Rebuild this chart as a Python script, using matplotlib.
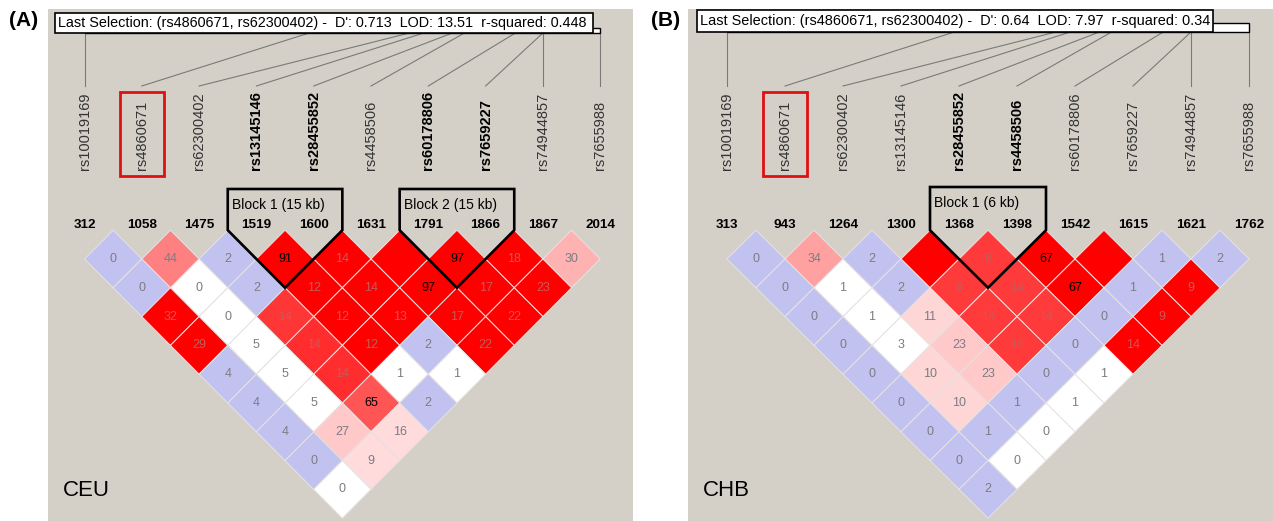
import matplotlib
matplotlib.use('Agg')
import matplotlib.pyplot as plt
from matplotlib.patches import Polygon, Rectangle
from matplotlib import font_manager

plt.rcParams['font.family'] = ['Liberation Sans', 'DejaVu Sans']

# narrow face for the selection box text, if installed
try:
    font_manager.findfont(font_manager.FontProperties(family='Liberation Sans Narrow'),
                          fallback_to_default=False)
    BOX_FAMILY = ['Liberation Sans Narrow', 'Liberation Sans', 'DejaVu Sans']
except Exception:
    BOX_FAMILY = ['Liberation Sans', 'DejaVu Sans']

# ---------------- data ----------------
snps = ['rs10019169', 'rs4860671', 'rs62300402', 'rs13145146', 'rs28455852',
        'rs4458506', 'rs60178806', 'rs7659227', 'rs74944857', 'rs7655988']
# relative physical map position of each SNP (in marker-spacing units)
map_pos = [0, 3.92, 5.67, 5.92, 6.42, 6.63, 7.52, 8.0, 8.0, 9.0]
selected_snp = 1

ceu_numbers = ['312', '1058', '1475', '1519', '1600', '1631', '1791', '1866', '1867', '2014']
ceu_bold = [3, 4, 6, 7]
ceu_r2 = [  # r^2 x100, rows by marker distance; None = 100 (shown blank)
    [0, 44, 2, 91, 14, None, 97, 18, 30],
    [0, 0, 2, 12, 14, 97, 17, 23],
    [32, 0, 14, 12, 13, 17, 22],
    [29, 5, 14, 12, 2, 22],
    [4, 5, 14, 1, 1],
    [4, 5, 65, 2],
    [4, 27, 16],
    [0, 9],
    [0],
]
ceu_dprime = [
    [1, 0.713, 1, 1, 1, 1, 1, 1, 0.60],
    [1, 0.5, 1, 1, 1, 1, 1, 1],
    [1, 0.5, 0.88, 1, 1, 1, 1],
    [1, 0.5, 0.90, 1, 1, 1],
    [1, 0.5, 0.90, 0.5, 0.5],
    [1, 0.5, 0.81, 1],
    [1, 0.55, 0.51],
    [1, 0.51],
    [0.5],
]
ceu_lod_sig = [
    [0, 1, 0, 1, 1, 1, 1, 1, 1],
    [0, 0, 0, 1, 1, 1, 1, 1],
    [1, 0, 1, 1, 1, 1, 1],
    [1, 0, 1, 1, 0, 1],
    [0, 0, 1, 0, 0],
    [0, 0, 1, 0],
    [0, 1, 1],
    [0, 1],
    [0],
]
ceu_blocks = [(3, 4, 'Block 1 (15 kb)'), (6, 7, 'Block 2 (15 kb)')]
ceu_selection = "Last Selection: (rs4860671, rs62300402) -  D': 0.713  LOD: 13.51  r-squared: 0.448"

chb_numbers = ['313', '943', '1264', '1300', '1368', '1398', '1542', '1615', '1621', '1762']
chb_bold = [4, 5]
chb_r2 = [
    [0, 34, 2, None, 8, 67, None, 1, 2],
    [0, 1, 2, 8, 14, 67, 1, 9],
    [0, 1, 11, 14, 14, 0, 9],
    [0, 3, 23, 14, 0, 14],
    [0, 10, 23, 0, 1],
    [0, 10, 1, 1],
    [0, 1, 0],
    [0, 0],
    [2],
]
chb_dprime = [
    [1, 0.64, 1, 1, 0.87, 1, 1, 1, 1],
    [1, 0.5, 1, 0.87, 0.87, 1, 1, 1],
    [1, 0.5, 0.52, 0.87, 0.87, 1, 1],
    [1, 0.5, 0.55, 0.87, 1, 1],
    [1, 0.52, 0.55, 1, 0.5],
    [1, 0.52, 1, 0.5],
    [1, 1, 0.5],
    [1, 0.5],
    [1],
]
chb_lod_sig = [
    [0, 1, 0, 1, 1, 1, 1, 0, 0],
    [0, 0, 0, 1, 1, 1, 0, 1],
    [0, 0, 1, 1, 1, 0, 1],
    [0, 0, 1, 1, 0, 1],
    [0, 1, 1, 0, 0],
    [0, 1, 0, 0],
    [0, 0, 0],
    [0, 0],
    [0],
]
chb_blocks = [(4, 5, 'Block 1 (6 kb)')]
chb_selection = "Last Selection: (rs4860671, rs62300402) -  D': 0.64  LOD: 7.97  r-squared: 0.34"

# ---------------- layout ----------------
W, H, DPI = 1273, 521, 100
BG = '#D4D0C8'
BLUE = (194 / 255, 194 / 255, 240 / 255)
fig = plt.figure(figsize=(W / DPI, H / DPI), dpi=DPI, facecolor='white')


def ld_color(dp, sig):
    if not sig:
        return BLUE if dp >= 1 else (1, 1, 1)
    blgr = min(224, max(0, 446 * (1 - dp))) / 255.0
    return (1.0, blgr, blgr)


def draw_panel(cfg):
    left, right, x0, xstep = cfg['left'], cfg['right'], cfg['x0'], cfg['xstep']
    top, y0, ystep = 9, 230.2, 57.6
    ax = fig.add_axes([left / W, 0, (right - left) / W, (H - top) / H])
    ax.set_facecolor(BG)
    for s in ax.spines.values():
        s.set_visible(False)
    ax.set_xticks([]); ax.set_yticks([])
    ax.set_xlim((left - x0) / xstep, (right - x0) / xstep)
    ax.set_ylim((H - y0) / ystep, (top - y0) / ystep)

    def px(p):
        return (p - x0) / xstep

    def py(p):
        return (p - y0) / ystep

    n = len(snps)
    # genomic strip and header box
    bx0, bx1, by0, by1 = cfg['box']
    ax.add_patch(Rectangle((0, py(cfg['strip_top'])), n - 1,
                           py(by1) - py(cfg['strip_top']),
                           facecolor='white', edgecolor='black', lw=1.0, zorder=3))
    ax.add_patch(Rectangle((px(bx0), py(by0)), px(bx1) - px(bx0), py(by1) - py(by0),
                           facecolor='white', edgecolor='black', lw=1.2, zorder=4))
    sel = ax.text(px(bx0) + 2.5 / xstep, py((by0 + by1) / 2 + 0.5), cfg['selection'],
                  ha='left', va='center', fontsize=10.5, family=BOX_FAMILY,
                  color='black', zorder=5)

    # connector lines and SNP labels
    for i, name in enumerate(snps):
        ax.plot([i, map_pos[i]], [py(86), py(by1)], color='#7A7A7A', lw=0.8, zorder=2)
        bold = i in cfg['bold']
        ax.text(i, py(170), name, rotation=90, ha='center', va='bottom',
                fontsize=10.5, fontweight='bold' if bold else 'normal',
                color='black' if bold else '#333333', zorder=3)
        ax.text(i, py(225), cfg['numbers'][i], ha='center', va='center',
                fontsize=9.7, fontweight='bold', color='black', zorder=3)
    ax.add_patch(Rectangle((selected_snp - 22 / xstep, py(92)), 44 / xstep, py(176) - py(92),
                           facecolor='none', edgecolor='#E01010', lw=2.0, zorder=4))

    # LD diamonds
    for d, (r2row, dprow, sgrow) in enumerate(zip(cfg['r2'], cfg['dprime'], cfg['sig']), start=1):
        for i, (v, dp, sg) in enumerate(zip(r2row, dprow, sgrow)):
            cx, cy = i + d / 2.0, d / 2.0
            col = ld_color(dp, sg)
            ax.add_patch(Polygon([(cx, cy - 0.5), (cx + 0.5, cy), (cx, cy + 0.5), (cx - 0.5, cy)],
                                 closed=True, facecolor=col, edgecolor='#E6E2E2', lw=0.7, zorder=2))
            if v is None:
                continue
            if v >= 50:
                tc = 'black'
            elif col[1] < 0.5:
                tc = '#C85A5A'
            else:
                tc = '#7C7C84'
            ax.text(cx, cy, str(v), ha='center', va='center', fontsize=9, color=tc, zorder=3)

    # haplotype blocks
    for a, b, label in cfg['blocks']:
        ytop = py(cfg['block_top'])
        mid = (a + b) / 2.0
        pts = [(a - 0.5, ytop), (a - 0.5, 0), (mid, (b - a + 1) * 0.5),
               (b + 0.5, 0), (b + 0.5, ytop)]
        ax.add_patch(Polygon(pts, closed=True, facecolor='none', edgecolor='black',
                             lw=1.9, joinstyle='miter', zorder=5))
        ax.text(a - 0.5 + 4 / xstep, py(cfg['block_top'] + 16), label, ha='left', va='center',
                fontsize=10, color='black', zorder=5)

    ax.text(px(cfg['left'] + 15), py(491), cfg['pop'], ha='left', va='center',
            fontsize=16, color='black', zorder=5)
    fig.text(cfg['tag_x'] / W, 1 - 21 / H, cfg['tag'], ha='center', va='center',
             fontsize=15, fontweight='bold', color='black')
    return sel, (px(bx1) - px(bx0)) * xstep - 5


panels = [
    dict(left=48, right=633, x0=84.5, xstep=57.3, box=(55, 593, 13, 33), strip_top=28,
         selection=ceu_selection, bold=ceu_bold, numbers=ceu_numbers,
         r2=ceu_r2, dprime=ceu_dprime, sig=ceu_lod_sig, blocks=ceu_blocks, block_top=189,
         pop='CEU', tag='(A)', tag_x=24),
    dict(left=688, right=1273, x0=727, xstep=58.0, box=(697, 1213, 10, 32), strip_top=23,
         selection=chb_selection, bold=chb_bold, numbers=chb_numbers,
         r2=chb_r2, dprime=chb_dprime, sig=chb_lod_sig, blocks=chb_blocks, block_top=187,
         pop='CHB', tag='(B)', tag_x=666),
]

fits = [draw_panel(p) for p in panels]
fig.canvas.draw()
r = fig.canvas.get_renderer()
for t, target in fits:
    w = t.get_window_extent(r).width
    t.set_fontsize(t.get_fontsize() * target / w)

fig.savefig('out.png', dpi=DPI, facecolor='white')
